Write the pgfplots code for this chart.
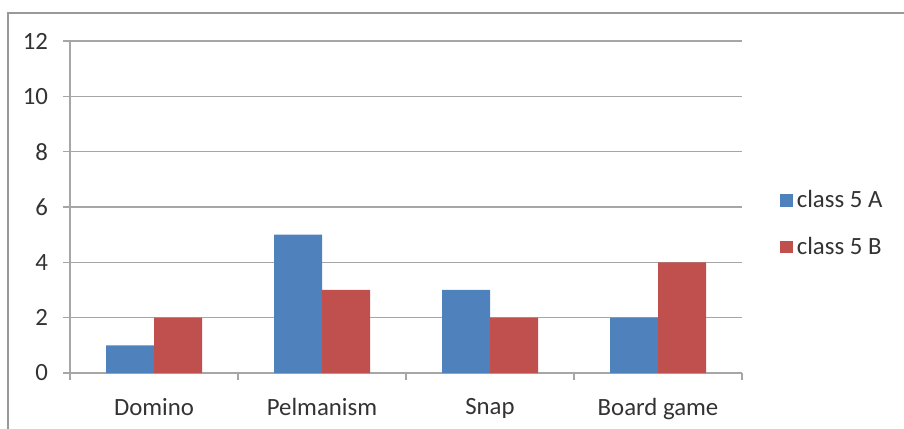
\documentclass[border=0pt]{standalone}
\usepackage{pgfplots}
\pgfplotsset{compat=1.18}
\usepackage{fontspec}
\setmainfont{Carlito}
\definecolor{cA}{HTML}{4F81BD}
\definecolor{cB}{HTML}{C0504D}
\definecolor{gridc}{HTML}{A6A6A6}
\begin{document}
\begin{tikzpicture}
\useasboundingbox (0pt,0pt) rectangle (452pt,214pt);
\begin{scope}
\clip (0pt,0pt) rectangle (452pt,214pt);
\draw[color=gray!80, line width=1.2pt] (4pt,207.5pt) rectangle (460pt,-10pt);
\end{scope}
\begin{axis}[
  at={(35pt,27.5pt)}, anchor=south west,
  scale only axis, width=336pt, height=166pt,
  xmin=-0.5, xmax=3.5, ymin=0, ymax=12,
  ytick={0,2,...,12},
  xtick={-0.5,0.5,1.5,2.5,3.5},
  xticklabels={},
  extra x ticks={0,1,2,3},
  extra x tick labels={Domino, Pelmanism, Snap, Board game},
  extra x tick style={major tick length=0pt, xtick style={draw=none}},
  ybar, bar width=24pt,
  axis x line*=bottom, axis y line*=left,
  axis line style={draw=gridc, line width=0.6pt},
  x axis line style={-}, y axis line style={-},
  tick align=outside,
  major tick length=3.5pt,
  xtick style={draw=gridc, line width=0.6pt},
  ytick style={draw=gridc, line width=0.6pt},
  ymajorgrids, grid style={draw=gridc, line width=0.6pt},
  font=\fontsize{12.4}{14}\selectfont,
  /pgf/number format/assume math mode=true,
  yticklabel style={font=\fontsize{12.4}{14}\selectfont, text=black!80, xshift=-4pt},
  xticklabel style={font=\fontsize{12.4}{14}\selectfont, text=black!80, yshift=-9pt},
  legend style={draw=none, at={(1.047,0.449)}, anchor=west, font=\fontsize{12.4}{14}\selectfont, text=black!80, row sep=9pt, legend cell align=left},
  legend image code/.code={\fill[#1] (0pt,-3.2pt) rectangle (6.4pt,3.2pt);},
]
\addplot[fill=cA, draw=none, bar shift=-12pt] coordinates {(0,1) (1,5) (2,3) (3,2)};
\addplot[fill=cB, draw=none, bar shift=12pt] coordinates {(0,2) (1,3) (2,2) (3,4)};
\legend{class 5 A, class 5 B}
\end{axis}
\end{tikzpicture}
\end{document}
